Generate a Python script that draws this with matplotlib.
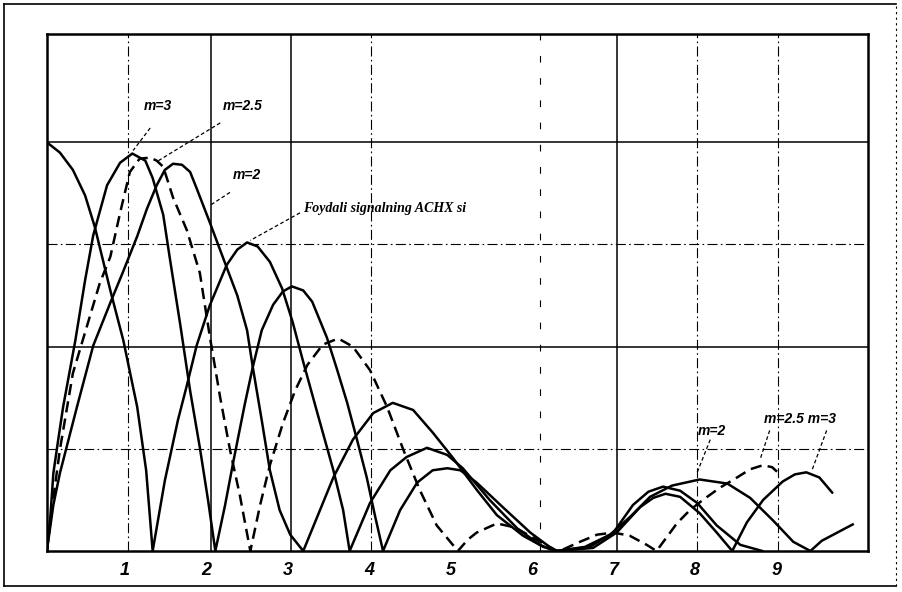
import matplotlib.pyplot as plt
from matplotlib.lines import Line2D

plt.rcParams['font.family'] = ['Liberation Sans', 'DejaVu Sans']

# ---- data (x: scale units 1..9, y: grid units) ----
foydali_x = [0.04, 0.20, 0.36, 0.51, 0.63, 0.82, 0.98, 1.15, 1.26, 1.34,
             1.49, 1.65, 1.76, 1.88, 2.04, 2.25, 2.38, 2.50, 2.63, 2.78, 2.93,
             3.06, 3.19, 3.36, 3.56, 3.68, 3.76,
             4.01, 4.26, 4.46, 4.71, 4.96, 5.15, 5.48, 5.82, 6.10, 6.28,
             6.71, 7.00, 7.24, 7.43, 7.61, 7.82, 8.03, 8.27, 8.56, 8.83]
foydali_y = [4.00, 3.90, 3.73, 3.48, 3.17, 2.55, 2.06, 1.41, 0.79, 0.00,
             0.69, 1.28, 1.62, 2.01, 2.40, 2.80, 2.95, 3.02, 2.98, 2.83, 2.57,
             2.24, 1.85, 1.36, 0.79, 0.40, 0.00,
             0.47, 0.79, 0.92, 1.01, 0.94, 0.81, 0.50, 0.22, 0.06, 0.00,
             0.04, 0.18, 0.45, 0.58, 0.63, 0.59, 0.47, 0.25, 0.06, 0.00]

m3_x = [0.04, 0.08, 0.12, 0.18, 0.24, 0.39, 0.51, 0.61, 0.78, 0.94, 1.09, 1.25,
        1.34, 1.47, 1.55, 1.68, 1.80, 1.92, 2.02, 2.11,
        2.23, 2.33, 2.47, 2.57, 2.68, 2.82, 2.94, 3.05, 3.19, 3.30, 3.48, 3.60,
        3.73, 3.85, 3.97, 4.07, 4.17,
        4.38, 4.59, 4.78, 4.96, 5.12, 5.32, 5.64, 5.98, 6.20, 6.31,
        6.75, 7.04, 7.33, 7.49, 7.64, 7.82, 8.06, 8.27, 8.46,
        8.64, 8.84, 9.08, 9.23, 9.37, 9.53, 9.69]
m3_y = [0.00, 0.30, 0.76, 1.09, 1.41, 2.06, 2.65, 3.09, 3.58, 3.80, 3.89, 3.82,
        3.65, 3.29, 2.87, 2.21, 1.57, 1.01, 0.50, 0.00,
        0.45, 0.87, 1.43, 1.80, 2.16, 2.41, 2.54, 2.59, 2.55, 2.44, 2.09, 1.79,
        1.45, 1.09, 0.72, 0.35, 0.00,
        0.40, 0.67, 0.79, 0.81, 0.79, 0.67, 0.43, 0.18, 0.05, 0.00,
        0.03, 0.18, 0.43, 0.52, 0.56, 0.53, 0.37, 0.18, 0.00,
        0.28, 0.50, 0.68, 0.75, 0.77, 0.72, 0.57]

m25_x = [0.04, 0.10, 0.20, 0.36, 0.48, 0.69, 0.82, 0.94, 1.06, 1.18, 1.31,
         1.39, 1.47, 1.59, 1.76, 1.92, 2.04, 2.17, 2.29, 2.41, 2.54,
         2.66, 2.78, 2.94, 3.09, 3.24, 3.43, 3.62, 3.80, 4.01, 4.22, 4.42,
         4.62, 4.83, 5.09,
         5.21, 5.32, 5.57, 5.79, 6.06, 6.28,
         6.34, 6.59, 6.80, 7.00, 7.20, 7.41, 7.53,
         7.66, 7.78, 7.94, 8.10, 8.31, 8.52, 8.68, 8.84, 8.95, 9.02]
m25_y = [0.00, 0.40, 0.99, 1.74, 2.06, 2.62, 2.88, 3.31, 3.71, 3.84, 3.85,
         3.82, 3.76, 3.46, 3.14, 2.72, 2.11, 1.50, 0.99, 0.55, 0.00,
         0.45, 0.84, 1.25, 1.57, 1.82, 2.02, 2.08, 2.00, 1.77, 1.41, 0.99,
         0.60, 0.25, 0.00,
         0.11, 0.18, 0.27, 0.23, 0.11, 0.00,
         0.00, 0.09, 0.16, 0.18, 0.15, 0.06, 0.00,
         0.14, 0.27, 0.40, 0.50, 0.62, 0.72, 0.80, 0.84, 0.82, 0.77]

m2_x = [0.04, 0.12, 0.20, 0.41, 0.61, 0.82, 0.975, 1.15, 1.27, 1.39, 1.49,
        1.59, 1.70, 1.80, 1.88, 2.04, 2.20, 2.38, 2.50, 2.57, 2.68, 2.78,
        2.90, 3.03, 3.19,
        3.37, 3.56, 3.80, 4.05, 4.29, 4.54, 4.78, 5.03, 5.32, 5.57, 5.89,
        6.14, 6.31,
        6.65, 6.96, 7.20, 7.45, 7.72, 8.06, 8.40, 8.68, 8.96, 9.21, 9.42,
        9.56, 9.75, 9.94]
m2_y = [0.00, 0.45, 0.76, 1.41, 2.01, 2.43, 2.73, 3.08, 3.35, 3.58, 3.73,
        3.79, 3.78, 3.71, 3.55, 3.22, 2.88, 2.50, 2.16, 1.80, 1.28, 0.79,
        0.40, 0.16, 0.00,
        0.35, 0.72, 1.09, 1.35, 1.45, 1.38, 1.16, 0.91, 0.60, 0.35, 0.15,
        0.04, 0.00,
        0.04, 0.16, 0.33, 0.53, 0.64, 0.70, 0.66, 0.52, 0.30, 0.09, 0.00,
        0.10, 0.18, 0.26]

x_ticks = [1, 2, 3, 4, 5, 6, 7, 8, 9]
tick_labels = ['1', '2', '3', '4', '5', '6', '7', '8', '9']
h_solid = [2, 4]
h_dashdot = [1, 3]
v_solid = [2.06, 3.04, 7.04]
v_dashdot = [1.04, 4.02, 8.03, 9.02]
v_sparse = [6.10]

# labels: (text, x, y, pointer from, pointer to)
labels = [
    ('m=3', 1.41, 4.36, (1.31, 4.14), (1.10, 3.92)),
    ('m=2.5', 2.45, 4.36, (2.17, 4.19), (1.41, 3.82)),
    ('m=2', 2.50, 3.68, (2.29, 3.51), (2.04, 3.38)),
    ('m=2', 8.21, 1.17, (8.19, 1.09), (8.03, 0.77)),
    ('m=2.5 m=3', 9.29, 1.29, (8.92, 1.18), (8.80, 0.89)),
]
extra_pointer = [((9.62, 1.18), (9.44, 0.79))]
foydali_label = ('Foydali signalning ACHX si', 3.19, 3.35, (3.15, 3.31), (2.54, 3.04))

fig = plt.figure(figsize=(9.02, 5.92), dpi=100)
ax = fig.add_axes([47 / 902, 41 / 592, 821 / 902, 517 / 592])
ax.set_xlim(0.042, 10.128)
ax.set_ylim(0, 5.06)

# grid
for y in h_solid:
    ax.axhline(y, color='k', lw=1.1, zorder=1)
for y in h_dashdot:
    ax.axhline(y, color='k', lw=0.8, dashes=(9, 3, 1.5, 3), zorder=1)
for x in v_solid:
    ax.axvline(x, color='k', lw=1.1, zorder=1)
for x in v_dashdot:
    ax.axvline(x, color='k', lw=0.8, dashes=(9, 3, 1.5, 3), zorder=1)
for x in v_sparse:
    ax.axvline(x, color='k', lw=0.8, dashes=(6, 14), zorder=1)

# curves
ax.plot(foydali_x, foydali_y, color='k', lw=1.8, zorder=3)
ax.plot(m3_x, m3_y, color='k', lw=1.8, zorder=3, solid_capstyle='round')
ax.plot(m2_x, m2_y, color='k', lw=1.8, zorder=3)
ax.plot(m25_x, m25_y, color='k', lw=1.8, dashes=(4.5, 2.5), zorder=3)

# labels and pointer lines
lab_font = dict(fontsize=10, fontweight='bold', fontstyle='italic')
for txt, tx, ty, p0, p1 in labels:
    ax.text(tx, ty, txt, ha='center', va='center', **lab_font)
    ax.plot([p0[0], p1[0]], [p0[1], p1[1]], color='k', lw=0.9, dashes=(3, 2))
for p0, p1 in extra_pointer:
    ax.plot([p0[0], p1[0]], [p0[1], p1[1]], color='k', lw=0.9, dashes=(3, 2))
txt, tx, ty, p0, p1 = foydali_label
ax.text(tx, ty, txt, ha='left', va='center', fontsize=10, fontweight='bold',
        fontstyle='italic', family=['Liberation Serif', 'DejaVu Serif'])
ax.plot([p0[0], p1[0]], [p0[1], p1[1]], color='k', lw=0.9, dashes=(3, 2))

# axes styling
ax.set_xticks(x_ticks)
ax.set_xticklabels(tick_labels, fontsize=13, fontweight='bold', fontstyle='italic')
ax.set_yticks([])
ax.tick_params(axis='x', length=0, pad=8)
for s in ax.spines.values():
    s.set_linewidth(1.8)

# outer frame of the scanned figure
t = fig.transFigure
fig.add_artist(Line2D([4 / 902, 4 / 902], [6 / 592, 588 / 592], transform=t, color='k', lw=1.2))
fig.add_artist(Line2D([4 / 902, 896 / 902], [588 / 592, 588 / 592], transform=t, color='k', lw=1.2))
fig.add_artist(Line2D([4 / 902, 896 / 902], [6 / 592, 6 / 592], transform=t, color='k', lw=1.2))
fig.add_artist(Line2D([896 / 902, 896 / 902], [6 / 592, 588 / 592], transform=t, color='k',
                      lw=0.8, dashes=(2, 3)))

fig.savefig('out.png', dpi=100)
